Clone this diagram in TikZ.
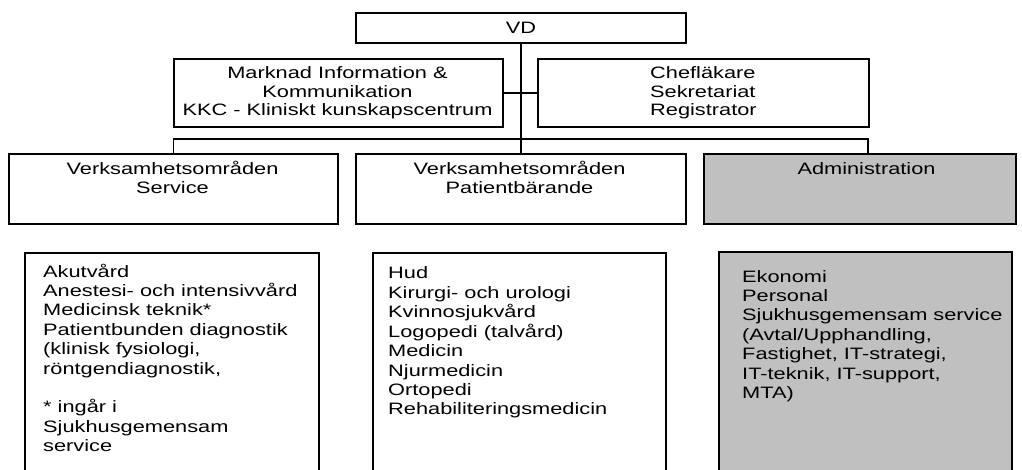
\documentclass[tikz,border=0pt]{standalone}
\usepackage{fontspec}
\setmainfont{Liberation Sans}[FakeStretch=1.32]
\definecolor{admgray}{HTML}{C0C0C0}
% multi-line text blocks whose baseline is the baseline of their first line
\newcommand{\ctrblock}[1]{\parbox[t]{320pt}{\centering\lineskiplimit=-100pt #1}}
\newcommand{\lftblock}[1]{\parbox[t]{280pt}{\raggedright\lineskiplimit=-100pt #1}}
\begin{document}
\begin{tikzpicture}[x=1pt,y=-1pt,
  box/.style={draw, line width=2pt, inner sep=0pt, anchor=north west},
  listbox/.style={draw=none, inner sep=0pt, anchor=north west},
  border/.style={line width=2pt},
  conn/.style={line width=1.3pt},
  txt/.style={inner sep=0pt, font=\fontsize{16.5}{18.5}\selectfont},
  lst/.style={inner sep=0pt, anchor=base west, font=\fontsize{16.5}{19.4}\selectfont},
]
\useasboundingbox (0,0) rectangle (1022,470);

% organisation boxes
\coordinate (admdrop) at (868,153);
\node[box, minimum width=330pt, minimum height=30pt] (vd) at (355,12) {};
\node[box, minimum width=329pt, minimum height=68pt] (mik) at (173,58) {};
\node[box, minimum width=331pt, minimum height=68pt] (chef) at (537,58) {};
\node[box, minimum width=329pt, minimum height=70pt] (svc) at (8,153) {};
\node[box, minimum width=330pt, minimum height=70pt] (pat) at (355,153) {};
\node[box, fill=admgray, minimum width=312pt, minimum height=70pt] (adm) at (703,153) {};

% connectors
\draw[conn] (vd.south) -- (pat.north);
\draw[conn] (mik.east) -- (chef.west);
\draw[conn] (svc.north) -- ++(0,-14) -| (admdrop);

% open-bottomed list boxes
\node[listbox, minimum width=294pt, minimum height=217pt] (svclist) at (25,253) {};
\node[listbox, minimum width=293pt, minimum height=217pt] (patlist) at (373,253) {};
\node[listbox, fill=admgray, minimum width=293pt, minimum height=218pt] (admlist) at (719,252) {};
\draw[border] (svclist.south west) |- (svclist.north east) -- (svclist.south east);
\draw[border] (patlist.south west) |- (patlist.north east) -- (patlist.south east);
\draw[border] (admlist.south west) |- (admlist.north east) -- (admlist.south east);

% box texts
\node[txt] (vdT) at (vd.center) {VD};
\node[txt, anchor=base] (mikT) at (337.5,79) {\ctrblock{Marknad Information \&\\Kommunikation\\KKC - Kliniskt kunskapscentrum}};
\node[txt, anchor=base west] (chefT) at (650,79) {\lftblock{Chefläkare\\Sekretariat\\Registrator}};
\node[txt, anchor=base] (svcT) at (172.5,175) {\ctrblock{Verksamhetsområden\\Service}};
\node[txt, anchor=base] (patT) at (519.5,175) {\ctrblock{Verksamhetsområden\\Patientbärande}};
\node[txt, anchor=base] (admT) at (866.5,175) {Administration};

% list texts
\node[lst] (svcL) at (43,277) {\lftblock{Akutvård\\Anestesi- och intensivvård\\Medicinsk teknik*\\Patientbunden diagnostik\\(klinisk fysiologi,\\röntgendiagnostik,\\[19.4pt]* ingår i\\Sjukhusgemensam\\service}};
\node[lst] (patL) at (388,279) {\lftblock{Hud\\Kirurgi- och urologi\\Kvinnosjukvård\\Logopedi (talvård)\\Medicin\\Njurmedicin\\Ortopedi\\Rehabiliteringsmedicin}};
\node[lst] (admL) at (742,282) {\lftblock{Ekonomi\\Personal\\Sjukhusgemensam service\\(Avtal/Upphandling,\\Fastighet, IT-strategi,\\IT-teknik, IT-support,\\MTA)}};
\end{tikzpicture}
\end{document}
